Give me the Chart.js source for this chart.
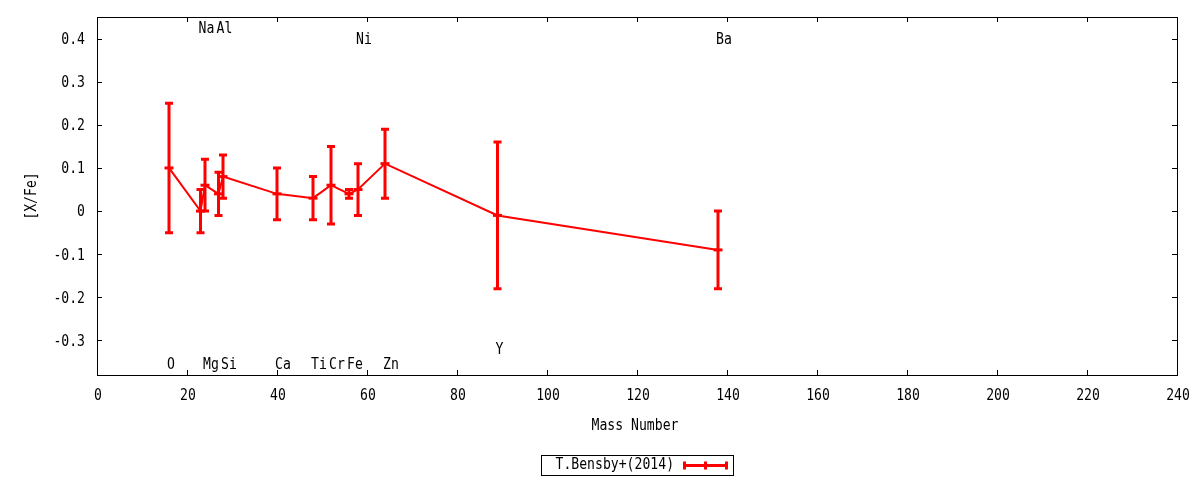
<!DOCTYPE html>
<html>
<head>
<meta charset="utf-8">
<script src="https://cdn.jsdelivr.net/npm/chart.js@4"></script>
<style>
  body { margin: 0; background: #fff; }
  #wrap { width: 1200px; height: 480px; }
</style>
</head>
<body>
<div id="wrap"><canvas id="myChart"></canvas></div>
<script>
// element abundances, T.Bensby+(2014)
const elements    = ['O', 'Na', 'Mg', 'Al', 'Si', 'Ca', 'Ti', 'Cr', 'Fe', 'Ni', 'Zn', 'Y', 'Ba'];
const massNumbers = [16, 23, 24, 27, 28, 40, 48, 52, 56, 58, 64, 89, 138];
const abundances  = [0.10, 0.00, 0.06, 0.04, 0.08, 0.04, 0.03, 0.06, 0.04, 0.05, 0.11, -0.01, -0.09];
const errors      = [0.15, 0.05, 0.06, 0.05, 0.05, 0.06, 0.05, 0.09, 0.01, 0.06, 0.08, 0.17, 0.09];
// y position (in [X/Fe] units) of each element name
const labelY      = [-0.353, 0.425, -0.353, 0.425, -0.353, -0.353, -0.353, -0.353, -0.353, 0.40, -0.353, -0.32, 0.40];
const yTicks      = [-0.3, -0.2, -0.1, 0, 0.1, 0.2, 0.3, 0.4];
const seriesName  = 'T.Bensby+(2014)';
const xTitle      = 'Mass Number';
const yTitle      = '[X/Fe]';

const RED = '#ff0000';
const FONT = '15px "DejaVu Sans Mono", monospace';
const SQUEEZE = 0.875;   // gnuplot's narrow mono look

// text with a narrowed mono font, baseline = bottom of capitals
function drawText(ctx, str, x, y, align, rotated) {
    ctx.save();
    ctx.translate(x, y);
    if (rotated) ctx.rotate(-Math.PI / 2);
    ctx.scale(SQUEEZE, 1);
    ctx.font = FONT;
    ctx.fillStyle = '#000';
    ctx.textAlign = align;
    ctx.textBaseline = 'alphabetic';
    ctx.fillText(str, 0, 0);
    ctx.restore();
}

function fmtTick(v) {
    return v === 0 ? '0' : String(Math.round(v * 10) / 10);
}

const points = massNumbers.map((a, i) => ({x: a, y: abundances[i]}));

// error bars, texts, frame with mirrored ticks, legend
const gnuplotLook = {
    id: 'gnuplotLook',
    afterDatasetsDraw(chart) {
        const ctx = chart.ctx;
        const xs = chart.scales.x, ys = chart.scales.y;
        const area = chart.chartArea;
        ctx.save();

        // error bars
        ctx.strokeStyle = RED;
        ctx.lineWidth = 3;
        for (let i = 0; i < massNumbers.length; i++) {
            const px = xs.getPixelForValue(massNumbers[i]);
            const top = ys.getPixelForValue(abundances[i] + errors[i]);
            const bot = ys.getPixelForValue(abundances[i] - errors[i]);
            ctx.beginPath();
            ctx.moveTo(px, top); ctx.lineTo(px, bot);
            ctx.moveTo(px - 4, top); ctx.lineTo(px + 4, top);
            ctx.moveTo(px - 4, bot); ctx.lineTo(px + 4, bot);
            ctx.stroke();
        }

        // element names
        for (let i = 0; i < elements.length; i++) {
            drawText(ctx, elements[i], xs.getPixelForValue(massNumbers[i]) - 2,
                     ys.getPixelForValue(labelY[i]) + 5.3, 'left');
        }

        // frame + inward ticks on all four sides
        ctx.strokeStyle = '#000';
        ctx.lineWidth = 1;
        ctx.strokeRect(area.left + 0.5, area.top + 0.5, area.right - area.left, area.bottom - area.top);
        ctx.beginPath();
        xs.ticks.forEach(t => {
            const px = Math.round(xs.getPixelForValue(t.value)) + 0.5;
            ctx.moveTo(px, area.bottom); ctx.lineTo(px, area.bottom - 5);
            ctx.moveTo(px, area.top); ctx.lineTo(px, area.top + 5);
        });
        ys.ticks.forEach(t => {
            const py = Math.round(ys.getPixelForValue(t.value)) + 0.5;
            ctx.moveTo(area.left, py); ctx.lineTo(area.left + 5, py);
            ctx.moveTo(area.right, py); ctx.lineTo(area.right - 5, py);
        });
        ctx.stroke();

        // tick labels and axis titles
        xs.ticks.forEach(t => {
            drawText(ctx, fmtTick(t.value), xs.getPixelForValue(t.value) + 1, area.bottom + 25, 'center');
        });
        ys.ticks.forEach(t => {
            drawText(ctx, fmtTick(t.value), area.left - 12, ys.getPixelForValue(t.value) + 5.4, 'right');
        });
        const cx = (area.left + area.right) / 2;
        drawText(ctx, xTitle, cx - 2, area.bottom + 55, 'center');
        drawText(ctx, yTitle, 36, (area.top + area.bottom) / 2, 'center', true);

        // legend box
        const bx = Math.round(cx - 96) + 0.5, by = 455.5, bw = 192, bh = 20;
        ctx.strokeStyle = '#000';
        ctx.lineWidth = 1;
        ctx.strokeRect(bx, by, bw, bh);
        drawText(ctx, chart.data.datasets[0].label, bx + 14, by + 13.5, 'left');
        const lx0 = bx + 143, lx1 = bx + 185, ly = by + bh / 2;
        ctx.strokeStyle = RED;
        ctx.lineWidth = 3;
        ctx.beginPath();
        ctx.moveTo(lx0, ly); ctx.lineTo(lx1, ly);
        [lx0, (lx0 + lx1) / 2, lx1].forEach(px => {
            ctx.moveTo(px, ly - 4); ctx.lineTo(px, ly + 4);
        });
        ctx.stroke();

        ctx.restore();
    }
};

const myChart = new Chart(document.getElementById('myChart'), {
    type: 'scatter',
    data: {
        datasets: [{
            label: seriesName,
            data: points,
            showLine: true,
            borderColor: RED,
            borderWidth: 2,
            pointStyle: 'line',
            pointRadius: 4.5,
            pointBorderWidth: 3,
            pointBorderColor: RED,
            pointHoverRadius: 4.5
        }]
    },
    options: {
        responsive: true,
        maintainAspectRatio: false,
        animation: false,
        layout: { padding: { left: 0, right: 23, top: 17, bottom: 0 } },
        plugins: {
            legend: { display: false },
            tooltip: { enabled: false }
        },
        scales: {
            x: {
                type: 'linear',
                min: 0,
                max: 240,
                ticks: { stepSize: 20, display: false },
                grid: { display: false, drawTicks: false },
                border: { display: false },
                afterFit(scale) { scale.height = 105; }
            },
            y: {
                type: 'linear',
                min: -0.38,
                max: 0.45,
                afterBuildTicks(scale) { scale.ticks = yTicks.map(v => ({value: v})); },
                ticks: { display: false },
                grid: { display: false, drawTicks: false },
                border: { display: false },
                afterFit(scale) { scale.width = 97; }
            }
        }
    },
    plugins: [gnuplotLook]
});
</script>
</body>
</html>
